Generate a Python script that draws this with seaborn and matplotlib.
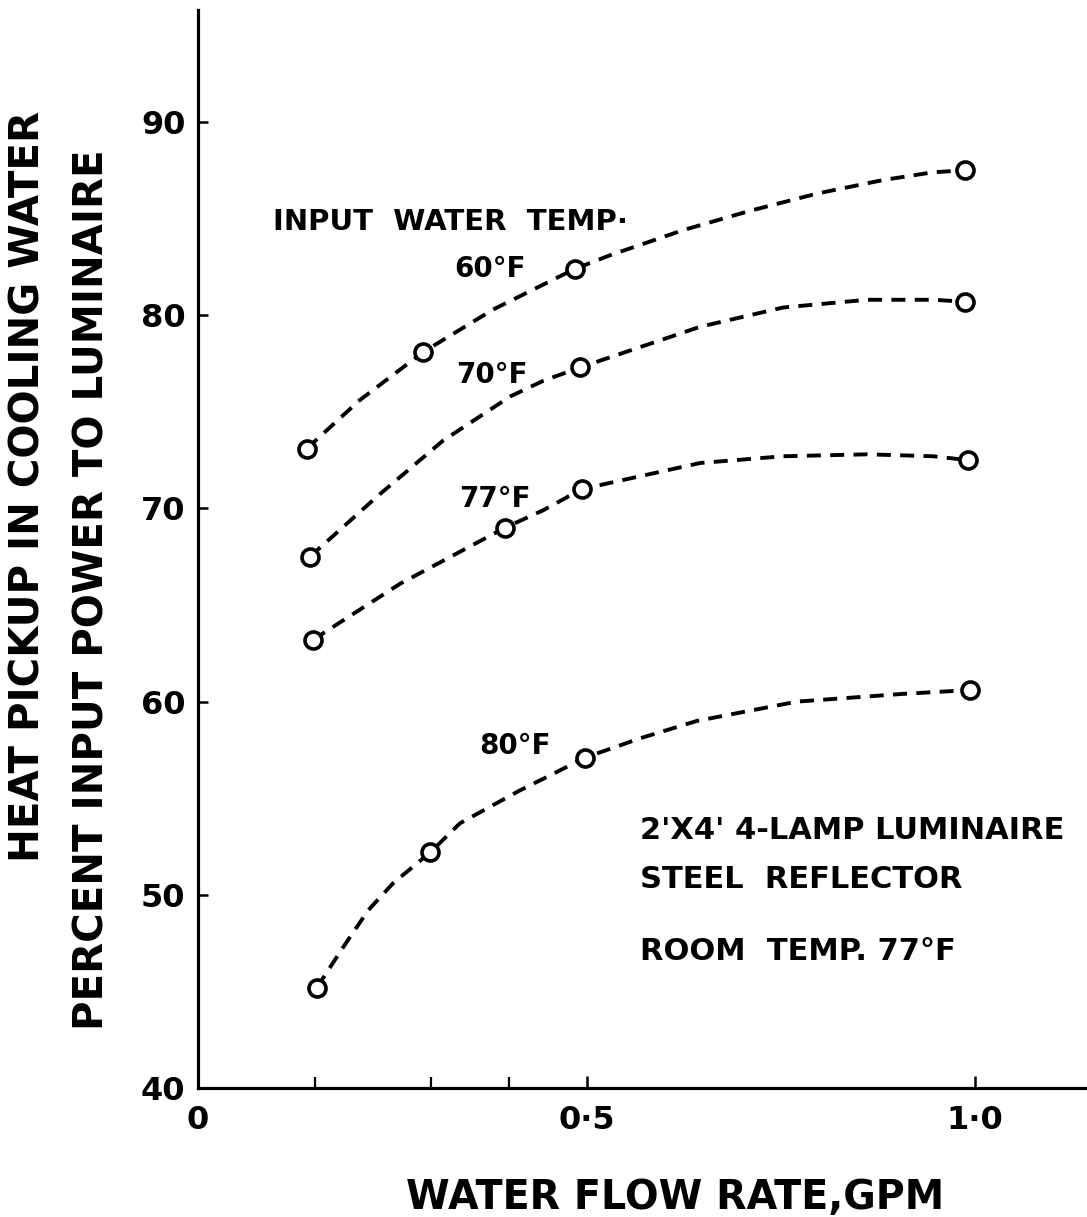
import matplotlib
matplotlib.use("Agg")
import matplotlib.pyplot as plt
import seaborn as sns
import pandas as pd

flow_60 = [0.140, 0.290, 0.485, 0.987]
heat_60 = [73.1, 78.1, 82.4, 87.5]
flow_70 = [0.144, 0.492, 0.987]
heat_70 = [67.5, 77.3, 80.7]
flow_77 = [0.148, 0.395, 0.494, 0.991]
heat_77 = [63.2, 69.0, 71.0, 72.5]
flow_80 = [0.153, 0.299, 0.498, 0.994]
heat_80 = [45.2, 52.2, 57.1, 60.6]

# hand drawn dashed curves
curve_flow_60 = [0.140, 0.208, 0.290, 0.380, 0.485, 0.530, 0.624, 0.710, 0.797, 0.882, 0.946, 0.987]
curve_heat_60 = [73.1, 75.6, 78.1, 80.3, 82.4, 83.1, 84.4, 85.4, 86.3, 87.0, 87.4, 87.5]
curve_flow_70 = [0.144, 0.230, 0.315, 0.402, 0.444, 0.492, 0.646, 0.753, 0.861, 0.946, 0.987]
curve_heat_70 = [67.5, 70.6, 73.5, 75.8, 76.6, 77.3, 79.4, 80.4, 80.8, 80.8, 80.7]
curve_flow_77 = [0.148, 0.260, 0.395, 0.444, 0.494, 0.646, 0.753, 0.861, 0.946, 0.991]
curve_heat_77 = [63.2, 66.1, 69.0, 69.9, 71.0, 72.35, 72.7, 72.8, 72.7, 72.5]
curve_flow_80 = [0.153, 0.187, 0.219, 0.251, 0.299, 0.337, 0.414, 0.449, 0.498, 0.569, 0.642, 0.771, 0.907, 0.994]
curve_heat_80 = [45.2, 47.3, 49.2, 50.6, 52.2, 53.7, 55.4, 56.1, 57.1, 58.1, 59.0, 60.0, 60.4, 60.6]

y_ticks = [40, 50, 60, 70, 80, 90]
x_ticks = [0, 0.5, 1.0]
x_tick_labels = ["0", "0·5", "1·0"]
x_minor_ticks = [0.15, 0.3, 0.4]

series = [
    ("60°F", flow_60, heat_60, curve_flow_60, curve_heat_60, (0.376, 82.4)),
    ("70°F", flow_70, heat_70, curve_flow_70, curve_heat_70, (0.378, 76.9)),
    ("77°F", flow_77, heat_77, curve_flow_77, curve_heat_77, (0.382, 70.5)),
    ("80°F", flow_80, heat_80, curve_flow_80, curve_heat_80, (0.408, 57.7)),
]

sns.set_style("ticks")
plt.rcParams['font.family'] = ['DejaVu Sans']
plt.rcParams['font.weight'] = 'bold'
plt.rcParams['text.color'] = 'black'
plt.rcParams['axes.labelcolor'] = 'black'

fig = plt.figure(figsize=(10.87, 12.17), dpi=100)
ax = fig.add_axes([0.1822, 0.106, 0.816, 0.8858])

for name, fx, hy, cx, cy, lab in series:
    curve = pd.DataFrame({"flow": cx, "heat": cy})
    pts = pd.DataFrame({"flow": fx, "heat": hy})
    sns.lineplot(data=curve, x="flow", y="heat", ax=ax, sort=False, estimator=None,
                 color="black", lw=2.8, linestyle=(0, (3.6, 2.4)), zorder=2)
    sns.scatterplot(data=pts, x="flow", y="heat", ax=ax, s=150, marker="o",
                    facecolor="white", edgecolor="black", linewidth=2.6, zorder=3)
    ax.text(lab[0], lab[1], name, ha="center", va="center", fontsize=20, fontweight="bold")

ax.text(0.0965, 84.8, "INPUT  WATER  TEMP·", ha="left", va="center", fontsize=21, fontweight="bold")
ax.text(0.569, 53.35, "2'X4' 4-LAMP LUMINAIRE", ha="left", va="center", fontsize=22, fontweight="bold")
ax.text(0.569, 50.77, "STEEL  REFLECTOR", ha="left", va="center", fontsize=22, fontweight="bold")
ax.text(0.569, 47.04, "ROOM  TEMP. 77°F", ha="left", va="center", fontsize=22, fontweight="bold")

ax.set_xlim(0, 1.1416)
ax.set_ylim(40, 95.8)
ax.set_yticks(y_ticks)
ax.set_yticklabels([str(v) for v in y_ticks])
ax.set_xticks(x_ticks)
ax.set_xticklabels(x_tick_labels)
ax.set_xticks(x_minor_ticks, minor=True)

for side in ["top", "right"]:
    ax.spines[side].set_visible(False)
for side in ["left", "bottom"]:
    ax.spines[side].set_linewidth(2.3)
    ax.spines[side].set_color("black")

ax.tick_params(axis="y", direction="in", length=7, width=1.8, pad=9, labelsize=23, colors="black")
ax.tick_params(axis="x", which="major", direction="in", length=9, width=1.8, pad=12, labelsize=23, colors="black")
ax.tick_params(axis="x", which="minor", direction="in", length=8, width=1.6, colors="black")
for t in ax.get_xticklabels() + ax.get_yticklabels():
    t.set_fontweight("bold")

ax.set_xlabel("WATER FLOW RATE,GPM", fontsize=28.5, fontweight="bold")
ax.xaxis.set_label_coords(0.538, -0.0835)
ax.set_ylabel("")

fig.text(29 / 1087, 1 - 487 / 1217, "HEAT PICKUP IN COOLING WATER", rotation=90,
         ha="center", va="center", fontsize=29, fontweight="bold")
fig.text(93 / 1087, 1 - 590 / 1217, "PERCENT INPUT POWER TO LUMINAIRE", rotation=90,
         ha="center", va="center", fontsize=29, fontweight="bold")

fig.savefig("out.png", dpi=100)
